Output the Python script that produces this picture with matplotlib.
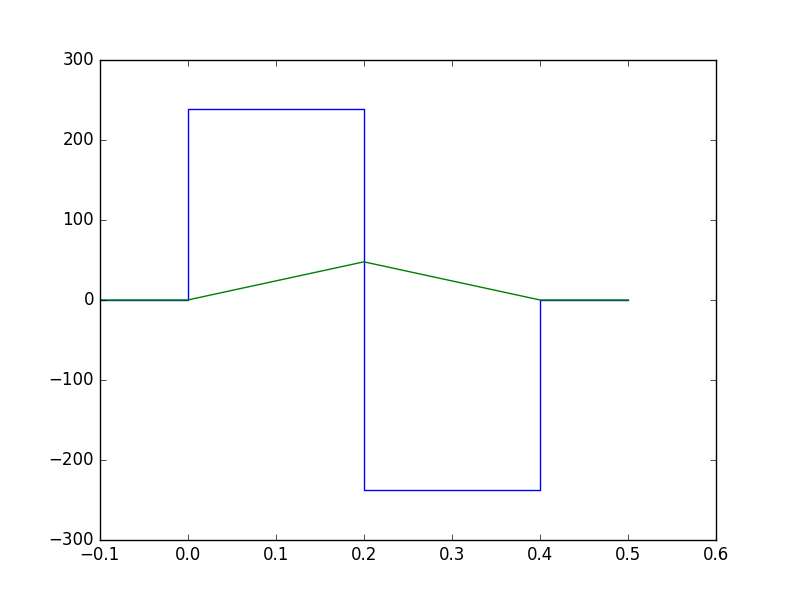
import matplotlib
matplotlib.use("Agg")
import matplotlib.pyplot as plt

plt.style.use("classic")

# Blue series (rate / derivative)
t_blue = [-0.1, 0.0, 0.0, 0.2, 0.2, 0.4, 0.4, 0.5]
v_blue = [0.0, 0.0, 238.8, 238.8, -237.5, -237.5, 0.0, 0.0]

# Green series (integrated value)
t_green = [-0.1, 0.0, 0.2, 0.4, 0.5]
v_green = [0.0, 0.0, 47.7, 0.0, 0.0]

fig = plt.figure(figsize=(7.96, 6.0), dpi=100)
fig.patch.set_facecolor("white")
ax = fig.add_subplot(111)
ax.plot(t_blue, v_blue, color="b")
ax.plot(t_green, v_green, color="g")
ax.set_xlim(-0.1, 0.6)
ax.set_ylim(-300, 300)
fig.savefig("out.png", dpi=100, facecolor="white")
